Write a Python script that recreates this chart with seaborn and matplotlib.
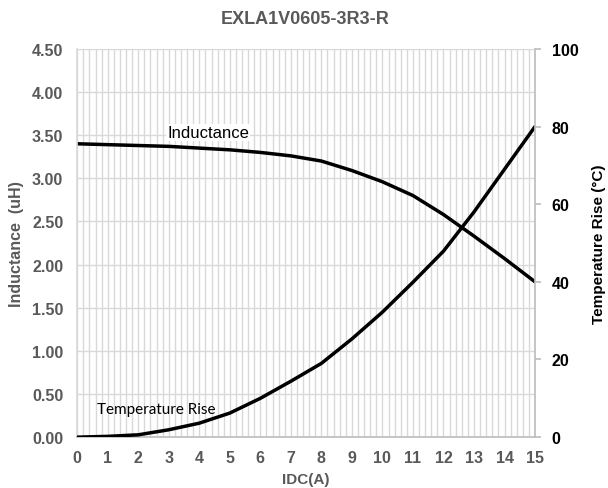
import numpy as np
import pandas as pd
import matplotlib.pyplot as plt
import seaborn as sns
from matplotlib.ticker import MultipleLocator

# values
idc = [0, 1, 2, 3, 4, 5, 6, 7, 8, 9, 10, 11, 12, 13, 14, 15]
inductance = [3.40, 3.39, 3.38, 3.37, 3.35, 3.33, 3.30, 3.26, 3.20, 3.09,
              2.96, 2.80, 2.58, 2.33, 2.07, 1.80]
temp_rise = [0, 0.2, 0.6, 1.9, 3.6, 6.2, 10.0, 14.4, 19.0, 25.3,
             32.2, 39.9, 47.9, 58.0, 69.0, 80.0]

df = pd.DataFrame({'IDC': idc, 'L': inductance, 'T': temp_rise})

sns.set_theme(style='white')
plt.rcParams['font.family'] = ['Liberation Sans', 'DejaVu Sans']

gray = '#595959'
grid_c = '#d9d9d9'

fig = plt.figure(figsize=(6.08, 4.89), dpi=100)
ax = fig.add_axes([0.127, 0.104, 0.753, 0.794])
ax2 = ax.twinx()

# gridlines first so the curves sit on top
ax.set_xlim(0, 15)
ax.set_ylim(0, 4.5)
ax.xaxis.set_major_locator(MultipleLocator(1))
ax.xaxis.set_minor_locator(MultipleLocator(0.2))
ax.yaxis.set_major_locator(MultipleLocator(0.5))
ax.grid(which='both', axis='x', color=grid_c, linewidth=1)
ax.grid(which='major', axis='y', color=grid_c, linewidth=1)
ax.set_axisbelow(True)

sns.lineplot(data=df, x='IDC', y='L', ax=ax, color='black', linewidth=2.5)
sns.lineplot(data=df, x='IDC', y='T', ax=ax2, color='black', linewidth=2.5)

ax2.set_ylim(0, 100)
ax2.yaxis.set_major_locator(MultipleLocator(20))
ax2.grid(False)

for a in (ax, ax2):
    for s in a.spines.values():
        s.set_visible(False)
ax.spines['left'].set_visible(True)
ax.spines['left'].set_color(grid_c)
ax.spines['bottom'].set_visible(True)
ax.spines['bottom'].set_color('#bfbfbf')
ax2.spines['right'].set_visible(True)
ax2.spines['right'].set_color('#bfbfbf')

ax.set_yticks(np.arange(0, 4.51, 0.5))
ax.set_yticklabels([f'{v:.2f}' for v in np.arange(0, 4.51, 0.5)])
ax.tick_params(axis='both', which='both', length=0, labelsize=11.5,
               labelcolor=gray, pad=9)
ax.tick_params(axis='y', pad=10)
for lab in ax.get_xticklabels() + ax.get_yticklabels():
    lab.set_fontweight('bold')

ax2.tick_params(axis='y', length=4, color='#bfbfbf', labelsize=11.5,
                labelcolor='black', pad=8)
for lab in ax2.get_yticklabels():
    lab.set_fontweight('bold')

ax.set_xlabel('IDC(A)', fontsize=11, fontweight='bold', color=gray, labelpad=5)
ax.set_ylabel('Inductance  (uH)', fontsize=11.5, fontweight='bold', color=gray,
              labelpad=6)
ax2.set_ylabel('Temperature Rise (°C)', fontsize=11, fontweight='bold',
               color='black', labelpad=10)

fig.suptitle('EXLA1V0605-3R3-R', x=0.502, y=0.978, fontsize=13,
             fontweight='bold', color=gray)

ax.text(2.95, 3.48, 'Inductance', fontsize=12, color='black',
        bbox=dict(facecolor='white', edgecolor='none', pad=1))
ax.text(0.65, 0.28, 'Temperature Rise', fontsize=11, color='black',
        family=['Lato', 'DejaVu Sans'])

fig.savefig('out.png', dpi=100)
